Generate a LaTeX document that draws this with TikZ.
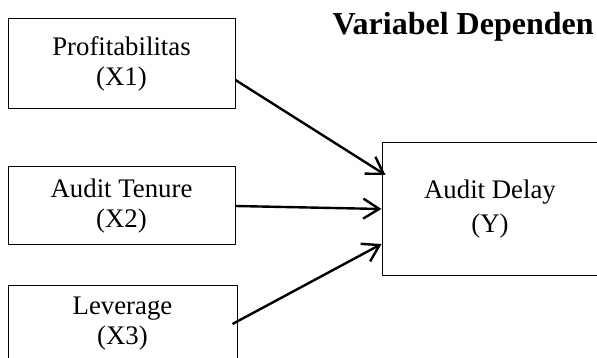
\documentclass[tikz,border=0pt]{standalone}
\usepackage{fontspec}
\setmainfont{Liberation Serif}
\usetikzlibrary{arrows.meta}
\begin{document}
\begin{tikzpicture}[x=1pt, y=-1pt, line join=round, font=\fontsize{26.8}{30}\selectfont, kotak/.style={draw, line width=1pt, align=center, inner sep=0pt}, panah/.style={line width=2.4pt, -{Straight Barb[length=16pt,width=20pt]}}]
			\def\lb{597} \def\tg{358} % lebar, tinggi gambar
			\useasboundingbox (0,0) rectangle (\lb,\tg);
			\clip (0,0) rectangle (\lb,\tg);
			\node[anchor=base west, font=\fontsize{32}{36}\selectfont\bfseries] (judul) at (329,35) {Variabel Dependen};
			\node[kotak, minimum width=227pt, minimum height=90pt] (x1) at (121.5,64) {Profitabilitas\\(X1)};
			\node[kotak, minimum width=227pt, minimum height=78pt] (x2) at (121.5,206) {Audit Tenure\\(X2)};
			\node[kotak, minimum width=229pt, minimum height=78pt] (x3) at (122.5,324) {Leverage\\(X3)};
			\node[kotak, minimum width=216pt, minimum height=132pt] (y) at (490,209) {Audit Delay\\[4pt](Y)};
			\draw[panah] (x1.-8) -- ([xshift=4pt,yshift=34pt]y.west);
			\draw[panah] (x2.east) -- (y.west);
			\draw[panah] ([xshift=-5pt]x3.east) -- ([yshift=-35pt]y.west);
		\end{tikzpicture}
\end{document}
